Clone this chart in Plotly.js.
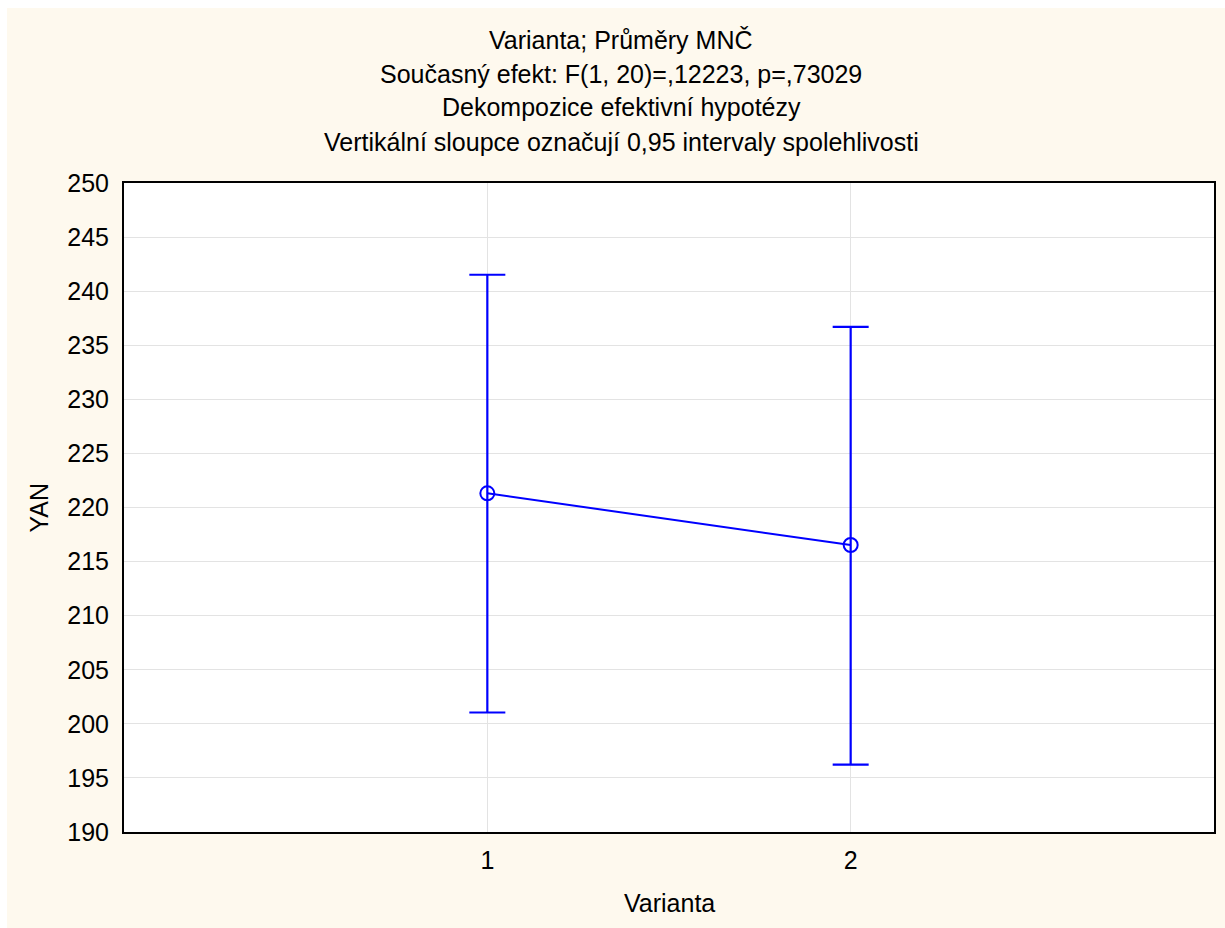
<!DOCTYPE html>
<html>
<head>
<meta charset="utf-8">
<script src="https://cdn.plot.ly/plotly-3.0.1.min.js"></script>
<style>
  html, body { margin: 0; padding: 0; background: #ffffff; }
  #chart { position: absolute; left: 7px; top: 8px; width: 1218px; height: 920px; }
</style>
</head>
<body>
<div id="chart"></div>
<script>
// Data
const categories = [1, 2];
const tickLabels = ['1', '2'];
const means = [221.31, 216.53];
const ciLower = [201.05, 196.22];
const ciUpper = [241.52, 236.70];

const titleLines = [
  'Varianta; Průměry MNČ',
  'Současný efekt: F(1, 20)=,12223, p=,73029',
  'Dekompozice efektivní hypotézy',
  'Vertikální sloupce označují 0,95 intervaly spolehlivosti'
];
const xTitle = 'Varianta';
const yTitle = 'YAN';

const FONT = 'Liberation Sans, Arial, sans-serif';
const FS = 25;
const BLUE = '#0000ff';

const trace = {
  x: categories,
  y: means,
  type: 'scatter',
  mode: 'lines+markers',
  line: { color: BLUE, width: 2 },
  marker: { symbol: 'circle-open', size: 14, color: BLUE, line: { color: BLUE, width: 2 } },
  error_y: {
    type: 'data',
    symmetric: false,
    array: ciUpper.map((u, i) => u - means[i]),
    arrayminus: means.map((m, i) => m - ciLower[i]),
    color: BLUE,
    thickness: 2.2,
    width: 18
  },
  hoverinfo: 'x+y'
};

// plot geometry (div coords): left 117, width 1090; top 175, height 649
const plotTop = 175, plotH = 649, plotL = 117, plotW = 1090;
function py(divY) { return 1 + (plotTop - divY) / plotH; }
function px(divX) { return (divX - plotL) / plotW; }

const titleCenters = [32, 66, 99, 134];
const annotations = titleLines.map((t, i) => ({
  text: t, xref: 'paper', yref: 'paper',
  x: px(614), y: py(titleCenters[i]),
  xanchor: 'center', yanchor: 'middle', showarrow: false,
  font: { family: FONT, size: FS, color: '#000000' }
}));
annotations.push({
  text: xTitle, xref: 'paper', yref: 'paper',
  x: 0.5, y: py(895), xanchor: 'center', yanchor: 'middle', showarrow: false,
  font: { family: FONT, size: FS, color: '#000000' }
});
annotations.push({
  text: yTitle, xref: 'paper', yref: 'paper',
  x: px(31), y: 0.5, xanchor: 'center', yanchor: 'middle', showarrow: false,
  textangle: -90,
  font: { family: FONT, size: FS, color: '#000000' }
});

const layout = {
  width: 1218, height: 920,
  paper_bgcolor: '#fef9ee',
  plot_bgcolor: '#ffffff',
  margin: { l: 117, r: 11, t: 175, b: 96, pad: 0 },
  showlegend: false,
  font: { family: FONT, size: FS, color: '#000000' },
  xaxis: {
    range: [0, 3],
    tickvals: categories,
    ticktext: tickLabels,
    ticks: '',
    ticklabelstandoff: 5,
    showgrid: true, gridcolor: '#e3e3e3', gridwidth: 1,
    zeroline: false,
    showline: true, mirror: true, linecolor: '#000000', linewidth: 2,
    tickfont: { family: FONT, size: FS, color: '#000000' }
  },
  yaxis: {
    range: [190, 250],
    tick0: 190, dtick: 5,
    ticks: '',
    ticklabelstandoff: 8,
    showgrid: true, gridcolor: '#e3e3e3', gridwidth: 1,
    zeroline: false,
    showline: true, mirror: true, linecolor: '#000000', linewidth: 2,
    tickfont: { family: FONT, size: FS, color: '#000000' }
  },
  annotations: annotations
};

Plotly.newPlot('chart', [trace], layout, { displayModeBar: false, staticPlot: false });
</script>
</body>
</html>
